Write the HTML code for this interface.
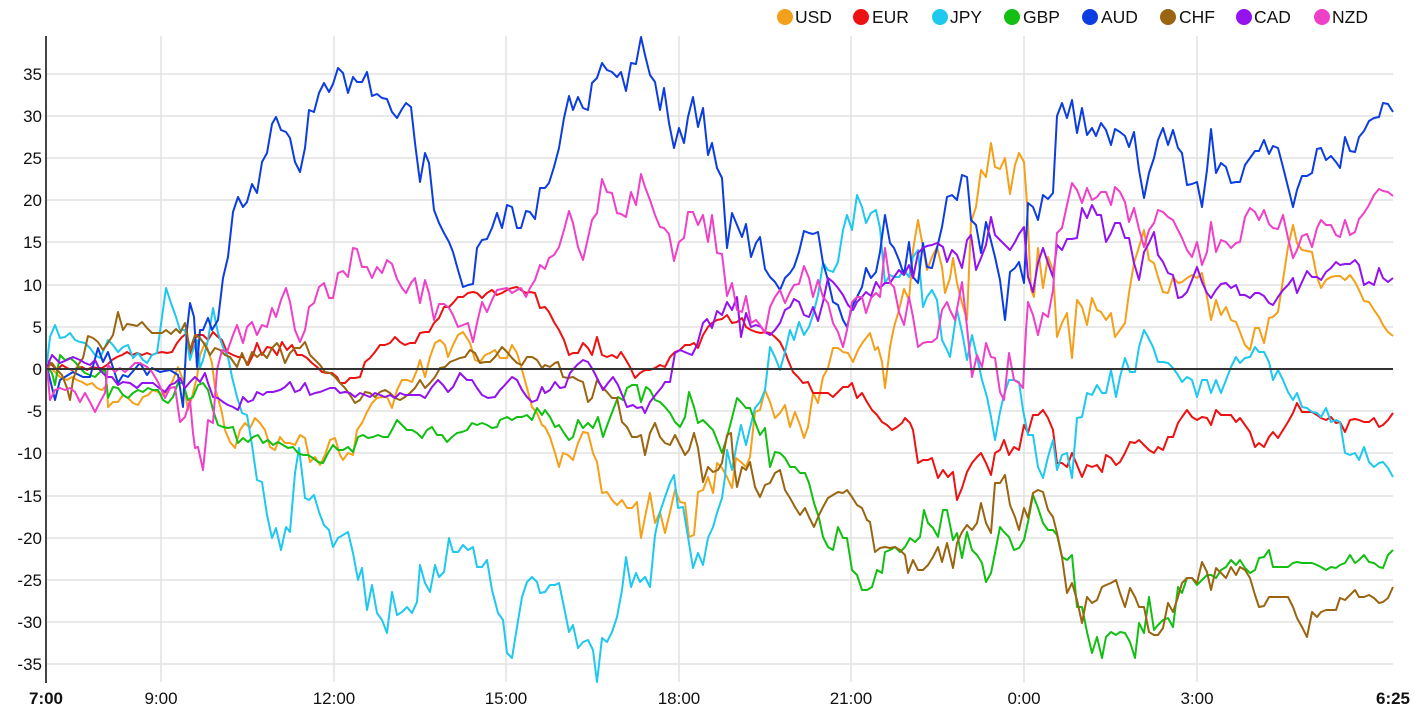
<!DOCTYPE html>
<html><head><meta charset="utf-8"><style>
html,body{margin:0;padding:0;background:#fff;}
svg{display:block;font-family:"Liberation Sans",Arial,sans-serif;}
</style></head><body>
<svg width="1416" height="715" viewBox="0 0 1416 715" xmlns="http://www.w3.org/2000/svg">
<rect width="1416" height="715" fill="#fff"/>
<g stroke="#e2e2e2" stroke-width="1.5">
<line x1="46" y1="74" x2="1393" y2="74"/><line x1="46" y1="116" x2="1393" y2="116"/><line x1="46" y1="158" x2="1393" y2="158"/><line x1="46" y1="200" x2="1393" y2="200"/><line x1="46" y1="242" x2="1393" y2="242"/><line x1="46" y1="285" x2="1393" y2="285"/><line x1="46" y1="327" x2="1393" y2="327"/><line x1="46" y1="411" x2="1393" y2="411"/><line x1="46" y1="453" x2="1393" y2="453"/><line x1="46" y1="496" x2="1393" y2="496"/><line x1="46" y1="538" x2="1393" y2="538"/><line x1="46" y1="580" x2="1393" y2="580"/><line x1="46" y1="622" x2="1393" y2="622"/><line x1="46" y1="664" x2="1393" y2="664"/>
<line x1="161" y1="36" x2="161" y2="682"/><line x1="334" y1="36" x2="334" y2="682"/><line x1="506" y1="36" x2="506" y2="682"/><line x1="679" y1="36" x2="679" y2="682"/><line x1="851" y1="36" x2="851" y2="682"/><line x1="1024" y1="36" x2="1024" y2="682"/><line x1="1197" y1="36" x2="1197" y2="682"/>
</g>
<g font-size="17" fill="#111" text-anchor="end">
<text x="42" y="80">35</text><text x="42" y="122">30</text><text x="42" y="164">25</text><text x="42" y="206">20</text><text x="42" y="248">15</text><text x="42" y="291">10</text><text x="42" y="333">5</text><text x="42" y="375">0</text><text x="42" y="417">-5</text><text x="42" y="459">-10</text><text x="42" y="502">-15</text><text x="42" y="544">-20</text><text x="42" y="586">-25</text><text x="42" y="628">-30</text><text x="42" y="670">-35</text>
</g>
<g font-size="17" fill="#111" text-anchor="middle">
<text x="46" y="704" font-weight="bold">7:00</text><text x="161" y="704">9:00</text><text x="334" y="704">12:00</text><text x="506" y="704">15:00</text><text x="679" y="704">18:00</text><text x="851" y="704">21:00</text><text x="1024" y="704">0:00</text><text x="1197" y="704">3:00</text><text x="1393" y="704" font-weight="bold">6:25</text>
</g>
<g fill="none" stroke-width="2" stroke-linejoin="round">
<polyline stroke="#f5a01a" points="47,367 53,370 60,377 67,380 72,377 77,380 82,382 87,385 92,383 97,388 102,390 107,385 108,407 113,402 118,402 123,395 128,398 133,403 138,405 143,397 148,395 153,390 158,392 163,395 168,390 173,380 178,367 183,380 188,410 192,397 197,377 200,355 205,343 208,350 212,363 215,388 218,398 222,413 225,430 230,442 235,448 240,430 245,423 250,428 255,418 260,423 265,430 270,447 275,450 280,437 285,443 290,443 295,445 300,435 305,438 310,462 315,457 320,465 325,455 330,440 335,438 340,455 343,460 348,453 353,455 357,430 362,423 367,412 372,403 377,398 382,397 387,397 392,408 397,390 402,380 407,380 412,382 417,370 420,360 425,377 430,357 435,343 440,340 445,345 448,357 453,345 458,335 463,332 470,343 475,360 480,362 485,355 490,353 495,350 500,358 507,358 512,345 517,353 522,370 527,388 532,407 537,413 542,425 545,427 550,437 555,453 559,467 563,453 568,455 573,460 578,443 583,432 588,433 593,453 597,462 602,493 607,492 612,500 617,505 622,500 627,508 632,508 637,502 641,538 645,517 650,493 655,523 660,512 665,533 670,512 675,490 680,502 685,503 689,537 694,535 698,492 703,490 708,477 713,493 717,463 722,468 727,477 732,488 736,458 741,462 746,467 750,457 755,412 760,410 765,390 770,402 775,418 780,413 785,405 790,427 795,412 800,425 804,438 808,427 813,393 818,403 823,377 828,368 833,348 838,348 843,352 848,353 853,362 858,350 863,342 870,333 875,350 878,347 882,362 885,388 890,347 894,327 899,310 904,289 909,300 913,250 918,220 923,247 927,270 932,257 937,247 942,267 945,293 950,278 953,258 957,283 962,303 967,320 971,222 976,207 981,170 986,177 991,143 995,167 1000,169 1005,158 1010,194 1015,165 1019,153 1024,162 1027,203 1031,290 1034,297 1038,248 1043,288 1048,257 1053,270 1057,337 1062,323 1067,313 1072,358 1077,300 1082,307 1087,325 1092,298 1097,310 1101,312 1106,320 1111,313 1115,337 1120,330 1125,323 1129,293 1134,263 1139,247 1144,230 1149,260 1154,263 1158,277 1163,292 1168,293 1173,277 1178,283 1182,282 1187,278 1192,275 1197,278 1202,273 1207,297 1211,320 1216,300 1221,315 1226,307 1231,320 1236,322 1240,332 1245,345 1250,350 1255,328 1259,328 1264,343 1269,318 1273,317 1278,312 1283,280 1288,247 1293,225 1297,243 1302,250 1307,251 1312,252 1317,277 1321,288 1326,280 1331,277 1336,276 1340,276 1345,280 1350,275 1355,282 1359,290 1364,301 1369,302 1374,310 1379,317 1383,325 1388,332 1393,336"/>
<polyline stroke="#ee1111" points="47,360 52,365 57,370 62,365 67,368 72,370 77,368 82,367 87,370 92,367 97,368 102,368 107,365 112,360 117,357 122,355 127,352 132,355 137,353 142,355 147,353 152,355 157,353 162,352 167,353 172,352 177,343 182,337 187,333 190,357 193,343 197,335 203,335 208,340 213,332 218,337 222,340 227,352 233,355 238,357 243,357 248,365 253,355 257,343 262,355 267,347 272,348 277,355 282,342 287,350 292,345 297,355 302,355 307,358 312,363 317,367 322,372 327,373 332,373 337,377 340,383 345,383 350,378 355,378 360,377 365,362 370,358 375,352 380,345 385,345 390,343 395,337 400,342 405,345 410,343 415,343 420,333 425,332 429,332 434,323 439,318 444,307 449,307 453,303 458,297 463,297 468,293 473,292 477,293 482,298 487,293 492,290 497,295 502,293 507,290 512,288 517,287 521,290 526,293 530,292 535,293 540,308 545,307 549,312 554,322 559,330 564,340 569,355 573,353 578,353 583,343 588,348 592,355 597,337 602,355 607,357 612,355 617,358 621,352 626,360 630,367 635,378 640,373 645,370 650,370 655,368 660,365 665,367 670,357 675,352 680,350 685,345 690,345 694,343 698,348 703,335 708,327 712,323 717,320 722,319 727,315 732,323 737,322 742,318 746,327 751,330 756,332 761,333 765,332 770,333 775,337 780,342 785,352 788,360 793,372 798,377 803,383 808,382 813,393 818,393 823,393 828,393 833,397 838,392 843,387 848,387 852,383 857,398 862,393 867,402 872,410 877,415 882,422 887,425 892,430 897,427 902,423 905,418 910,423 913,430 918,463 923,460 928,460 932,458 938,478 943,470 948,477 953,472 957,500 962,488 967,472 972,463 977,457 981,453 986,463 991,475 995,453 1000,450 1004,440 1009,455 1014,447 1019,450 1024,425 1028,433 1033,415 1038,415 1043,410 1048,418 1053,430 1057,463 1062,463 1067,467 1072,453 1077,465 1082,477 1087,465 1092,467 1097,465 1102,472 1106,455 1111,458 1116,465 1120,462 1125,453 1130,442 1135,443 1139,440 1144,445 1149,450 1154,453 1158,447 1163,450 1168,437 1173,437 1178,423 1182,417 1187,410 1192,417 1197,420 1202,417 1207,418 1211,425 1216,410 1221,415 1226,415 1231,415 1236,422 1240,418 1245,425 1250,432 1255,447 1259,443 1264,447 1269,437 1273,432 1278,438 1283,430 1288,422 1293,413 1297,403 1302,412 1307,412 1312,412 1317,415 1321,418 1326,420 1331,417 1336,423 1340,422 1345,432 1350,420 1355,419 1359,420 1364,422 1369,422 1374,418 1379,427 1383,425 1388,420 1393,413"/>
<polyline stroke="#1ec8ee" points="47,363 50,337 55,325 60,338 65,337 70,333 75,340 80,342 85,343 90,348 95,355 100,358 105,347 108,340 113,345 118,352 123,347 128,345 133,358 138,353 143,360 147,363 152,355 157,353 162,317 166,288 171,303 176,317 180,330 185,330 190,360 192,353 197,340 200,368 203,360 208,340 213,308 218,333 223,347 228,357 232,377 237,397 242,413 247,415 252,445 257,480 262,482 267,515 272,538 276,528 281,550 286,527 290,532 295,473 299,448 305,498 309,500 314,495 319,512 324,525 329,530 333,547 338,538 343,535 348,532 353,553 358,580 362,568 367,610 372,585 377,613 382,620 387,633 392,592 397,615 402,612 407,607 412,613 417,602 420,565 425,583 430,592 435,565 439,577 444,572 449,538 453,552 458,552 463,545 468,550 473,547 477,567 482,567 487,560 492,590 498,613 503,620 507,653 512,658 517,627 522,597 527,582 532,577 537,582 540,593 545,592 550,585 555,585 559,583 564,607 569,632 573,625 578,648 583,642 588,640 593,650 597,682 602,638 607,642 612,632 617,617 622,590 626,557 631,587 636,573 640,582 645,577 650,587 655,535 660,512 665,497 670,483 674,475 678,508 683,507 688,537 693,568 698,553 703,565 708,538 713,527 717,513 722,498 725,477 727,450 732,470 737,443 741,425 746,445 750,428 755,408 760,402 765,390 770,347 775,357 780,370 785,352 790,330 794,340 799,322 804,335 809,327 813,315 818,295 823,263 828,270 833,272 838,262 843,230 847,215 852,230 857,195 862,207 866,223 871,213 876,210 880,228 885,283 890,275 894,277 899,277 904,270 909,277 913,257 918,250 923,307 927,297 932,290 937,300 942,340 947,350 950,357 957,310 962,332 967,360 972,335 977,357 982,380 987,397 991,417 995,440 1000,412 1004,395 1009,380 1014,380 1019,382 1023,410 1028,435 1033,435 1038,467 1043,478 1048,457 1053,440 1057,470 1062,455 1067,453 1072,478 1077,418 1082,417 1087,393 1092,395 1097,385 1102,393 1106,393 1111,370 1116,397 1120,377 1125,358 1130,372 1135,372 1139,347 1144,330 1148,337 1153,347 1158,362 1163,362 1168,363 1173,368 1178,375 1182,382 1187,377 1192,380 1197,397 1202,380 1207,380 1211,393 1216,380 1221,393 1226,380 1231,367 1236,357 1240,363 1245,358 1250,357 1255,347 1259,352 1264,352 1269,362 1273,380 1278,370 1283,380 1288,392 1293,400 1297,393 1302,407 1307,408 1312,412 1317,413 1321,417 1326,408 1331,422 1336,420 1340,422 1345,453 1350,455 1355,453 1359,460 1364,447 1369,462 1374,467 1379,463 1383,462 1388,468 1393,477"/>
<polyline stroke="#12bf12" points="47,367 52,373 55,385 60,355 65,360 70,358 75,362 80,368 85,373 90,375 95,377 100,372 105,370 108,398 113,387 118,388 123,395 128,398 133,393 138,390 143,392 148,388 153,390 158,390 163,400 168,403 173,397 178,383 183,383 188,400 193,397 198,385 203,383 208,390 213,410 218,425 223,427 228,428 233,427 238,443 243,438 248,442 253,437 258,435 263,443 268,440 273,445 278,442 283,445 288,448 293,447 298,453 303,455 308,455 313,458 318,462 323,463 328,453 333,445 338,450 343,450 348,447 353,452 358,437 363,435 368,438 373,437 378,435 383,437 388,437 393,428 397,420 402,425 407,430 412,430 417,433 422,438 427,430 432,427 437,435 442,435 447,442 452,437 457,433 462,432 467,430 472,423 477,425 482,423 487,425 492,428 497,427 500,420 507,417 512,420 517,417 522,417 527,415 532,420 537,408 542,415 545,410 550,417 555,427 559,425 564,433 569,440 573,437 578,420 583,428 588,423 593,428 598,417 603,437 608,423 613,410 618,397 623,400 627,388 632,385 637,385 641,402 646,387 650,390 655,400 660,402 665,407 670,413 675,422 680,427 685,417 689,392 694,407 698,423 703,420 708,425 713,430 717,440 722,453 727,437 732,418 737,398 741,402 746,408 750,408 755,422 760,435 765,428 770,467 775,452 780,453 785,458 790,467 795,467 800,473 805,473 809,483 814,503 819,518 823,537 828,547 833,550 838,527 843,538 847,538 852,570 857,575 862,590 867,590 872,587 877,570 882,573 885,552 890,550 895,547 900,552 905,547 910,538 915,542 920,537 924,510 928,523 933,528 938,537 943,510 947,510 953,540 957,533 962,558 967,532 972,550 977,555 982,563 986,582 991,573 995,553 1000,527 1004,532 1009,537 1014,550 1019,548 1024,540 1028,522 1033,495 1038,508 1043,523 1048,530 1053,530 1057,535 1062,557 1067,560 1072,555 1077,607 1082,607 1087,632 1092,653 1097,637 1102,658 1106,637 1111,632 1116,635 1120,632 1125,633 1130,642 1135,658 1139,623 1144,633 1149,597 1154,630 1158,625 1163,620 1168,618 1173,627 1178,587 1182,593 1187,578 1192,578 1197,585 1202,580 1207,575 1211,575 1216,578 1221,570 1226,567 1231,560 1236,565 1240,560 1245,568 1250,573 1255,570 1259,558 1264,557 1269,550 1273,567 1278,567 1283,567 1288,567 1293,563 1297,562 1302,563 1307,563 1312,563 1317,565 1321,567 1326,570 1331,567 1336,568 1340,565 1345,563 1350,555 1355,563 1359,560 1364,555 1369,562 1374,563 1379,567 1383,568 1388,555 1393,550"/>
<polyline stroke="#0c3de0" points="47,367 55,400 60,380 73,372 83,377 90,377 98,348 103,362 108,352 118,383 123,375 128,377 140,363 147,375 152,368 160,372 170,370 178,375 183,407 187,330 190,303 194,317 197,367 200,330 203,330 208,318 212,330 218,320 223,278 228,257 233,212 238,197 243,207 247,202 252,184 257,193 262,162 267,153 272,124 276,117 281,130 286,132 290,138 295,162 300,172 305,148 309,110 314,112 319,93 324,83 329,92 333,84 338,68 343,73 348,93 353,77 357,82 362,82 367,72 372,96 377,94 382,98 387,99 392,112 397,118 402,109 406,103 411,107 415,143 420,182 425,153 429,163 434,210 439,223 444,233 449,242 453,252 458,270 463,287 468,285 473,284 477,248 482,240 487,239 492,228 497,213 502,228 507,205 512,207 517,228 521,228 526,211 530,212 535,219 540,188 545,188 549,183 554,167 559,148 564,118 569,96 573,110 578,97 583,108 588,110 592,83 597,78 602,63 607,70 612,72 617,77 621,72 626,91 631,63 636,64 641,37 645,55 650,75 655,82 660,110 664,88 669,123 674,148 679,128 684,143 688,117 693,97 698,127 703,108 708,155 712,143 717,168 722,178 727,248 732,213 737,225 742,237 746,224 751,257 756,243 760,237 765,269 770,277 775,282 780,290 785,278 790,273 794,267 799,252 804,231 809,233 813,234 818,232 823,263 828,280 833,302 838,305 843,320 847,327 852,307 857,297 862,287 866,268 871,278 876,272 880,252 885,215 890,243 894,248 899,260 904,275 909,242 913,277 918,283 923,243 927,267 932,268 937,248 942,227 947,197 952,195 957,200 962,175 967,177 971,220 976,225 981,253 986,222 990,237 995,257 1000,280 1005,320 1010,272 1015,268 1019,262 1024,283 1028,203 1033,207 1038,220 1043,195 1048,199 1053,193 1057,116 1062,103 1067,118 1072,100 1077,133 1082,108 1087,135 1092,128 1096,136 1101,123 1106,130 1111,145 1115,129 1120,132 1125,136 1129,147 1134,132 1139,170 1144,198 1149,173 1154,158 1158,140 1163,128 1168,145 1173,130 1178,148 1182,153 1187,185 1192,184 1197,182 1202,207 1207,170 1211,129 1216,173 1221,163 1226,167 1231,183 1236,182 1240,182 1245,165 1250,158 1255,151 1259,151 1264,140 1269,154 1273,146 1278,148 1283,167 1288,187 1293,207 1297,190 1302,176 1307,176 1312,173 1317,149 1321,148 1326,160 1331,156 1336,162 1340,168 1345,137 1350,151 1355,152 1359,137 1364,131 1369,121 1374,118 1379,117 1383,103 1388,104 1393,112"/>
<polyline stroke="#996510" points="47,368 52,363 57,370 62,375 67,388 70,400 73,380 78,365 83,358 88,336 93,338 98,342 103,350 108,343 113,335 118,312 123,330 127,324 133,325 137,326 142,322 147,328 152,333 157,333 162,333 166,330 171,334 176,329 180,333 185,323 190,350 195,335 200,338 205,345 210,355 215,348 220,350 225,355 230,357 237,367 242,353 247,365 252,352 257,357 262,353 267,358 272,348 277,343 280,348 285,363 290,353 295,348 300,348 305,342 310,355 315,360 320,365 325,372 330,373 335,377 340,383 345,388 350,395 355,403 360,400 365,392 370,393 375,397 380,392 385,390 390,393 395,398 400,400 405,397 410,393 415,388 420,380 425,388 430,383 435,377 440,368 445,367 450,362 455,360 460,358 465,357 470,350 475,353 480,363 485,362 490,362 495,357 502,347 507,352 512,358 517,363 522,365 527,357 532,357 537,360 542,368 545,365 550,367 555,363 558,362 563,377 568,378 573,377 578,380 583,382 588,402 592,398 597,380 602,387 607,392 612,398 617,398 622,422 627,427 632,437 637,437 641,435 645,455 650,433 655,423 660,437 665,443 670,445 675,435 680,445 685,455 689,450 694,433 698,448 703,482 708,467 713,472 718,470 722,463 727,435 731,433 733,457 737,487 742,467 746,470 750,462 755,487 760,497 765,485 770,483 775,473 780,470 785,490 790,498 795,507 800,515 805,508 809,517 814,527 819,515 823,507 828,498 833,495 838,492 843,493 847,490 852,497 857,505 862,508 867,520 870,522 875,552 880,548 885,547 890,548 895,547 900,550 905,555 908,573 913,560 918,570 923,570 928,565 933,557 938,547 942,562 947,543 953,568 957,543 962,532 967,525 972,530 977,523 981,503 986,523 991,533 995,483 1000,483 1005,475 1010,505 1015,517 1019,530 1024,508 1028,518 1033,493 1038,490 1043,492 1048,510 1053,517 1057,533 1062,557 1067,593 1072,583 1077,600 1082,623 1087,597 1092,603 1097,600 1102,587 1106,585 1111,583 1116,580 1120,593 1125,607 1130,588 1135,597 1139,607 1144,607 1149,632 1154,635 1158,635 1163,628 1168,603 1173,612 1178,597 1182,583 1187,578 1192,578 1197,583 1202,562 1207,572 1211,590 1216,568 1221,573 1226,578 1231,567 1236,575 1240,567 1245,570 1250,578 1255,595 1259,607 1264,606 1269,597 1273,597 1278,597 1283,597 1288,597 1293,607 1297,618 1302,627 1307,637 1312,612 1317,617 1321,612 1326,610 1331,610 1336,610 1340,598 1345,600 1350,595 1355,590 1359,597 1364,597 1369,595 1374,598 1379,603 1383,602 1388,598 1393,587"/>
<polyline stroke="#9412ee" points="47,367 52,355 60,363 67,360 73,357 80,360 85,363 90,365 95,360 100,370 107,377 112,377 118,385 123,382 130,383 137,388 142,383 147,383 153,383 158,387 165,392 170,385 175,383 180,378 185,388 190,382 195,377 200,382 205,373 208,383 213,397 218,398 223,402 228,405 233,407 238,410 243,397 248,402 253,400 257,392 263,395 267,392 273,392 280,390 285,387 290,382 295,392 300,390 305,383 310,395 315,393 320,392 325,390 330,388 335,388 340,393 345,392 350,393 355,397 360,393 365,395 370,397 375,393 380,395 385,397 390,395 395,398 400,393 405,395 410,395 415,395 420,395 425,398 432,387 438,380 443,385 448,392 453,387 460,373 467,380 472,380 477,388 482,395 488,398 495,397 500,390 503,387 512,377 517,380 522,390 527,397 532,402 537,400 542,387 545,393 550,390 555,382 560,388 565,387 570,373 577,365 583,360 588,362 593,370 598,380 603,390 608,383 613,377 618,385 623,397 627,407 633,405 637,408 642,407 645,413 650,402 657,393 662,387 665,382 670,382 675,353 680,350 687,353 692,355 697,345 703,323 707,319 712,328 717,311 722,315 727,302 732,310 737,297 741,337 746,313 751,327 756,325 761,327 765,332 770,335 775,330 780,323 785,310 790,307 794,299 799,302 804,315 809,317 813,307 818,321 823,302 828,278 833,282 838,288 843,295 848,305 853,310 857,302 862,297 866,292 871,296 876,282 880,288 885,283 890,283 894,277 899,270 904,275 909,265 913,278 918,253 923,248 927,246 932,245 937,243 943,247 947,262 952,250 957,255 962,268 967,240 971,235 976,270 981,258 986,245 991,217 995,235 1000,240 1005,245 1010,250 1015,242 1019,234 1024,227 1028,277 1033,292 1038,263 1043,248 1048,263 1053,277 1057,245 1062,250 1067,239 1072,239 1077,238 1082,208 1087,218 1092,205 1097,215 1101,215 1106,242 1111,233 1115,223 1120,223 1125,238 1129,238 1134,263 1139,280 1144,252 1149,243 1154,232 1158,255 1163,262 1168,273 1173,275 1178,298 1182,297 1187,292 1192,280 1197,267 1202,282 1207,293 1211,298 1216,290 1221,284 1226,283 1231,288 1236,285 1240,295 1245,295 1250,298 1255,293 1259,293 1264,296 1269,303 1273,305 1278,297 1283,290 1288,285 1293,278 1297,293 1302,282 1307,271 1312,277 1317,277 1321,280 1326,272 1331,268 1336,262 1340,265 1345,264 1350,264 1355,260 1359,265 1364,285 1369,282 1374,285 1379,268 1383,278 1388,282 1393,278"/>
<polyline stroke="#ee40c8" points="47,367 50,400 55,390 60,388 65,390 70,388 75,392 80,402 85,393 90,402 95,412 100,402 105,393 108,365 115,372 120,368 125,372 130,368 135,363 140,363 147,367 152,372 158,382 165,398 170,388 175,387 180,422 185,417 190,400 193,433 195,448 198,447 203,470 208,420 213,423 217,370 222,350 227,352 233,335 237,325 243,343 247,327 252,322 257,335 262,325 267,327 272,308 276,317 281,300 286,288 290,302 295,330 300,342 305,330 309,307 314,303 319,287 324,283 329,298 333,298 338,273 343,271 348,277 353,248 357,249 362,267 367,267 372,278 377,267 382,273 387,260 392,264 397,279 402,288 406,293 411,283 415,278 420,303 425,280 429,293 434,320 439,304 444,304 449,308 453,315 458,327 463,325 468,323 473,342 477,323 482,302 487,312 492,300 497,290 502,289 507,288 512,293 517,290 521,288 526,297 530,288 535,280 540,265 545,269 549,258 554,255 559,247 564,230 569,211 573,223 578,247 583,260 588,238 592,220 597,213 602,179 607,192 612,193 617,213 621,214 626,217 631,192 636,205 641,174 645,187 650,200 655,215 660,227 664,228 669,234 674,261 679,242 684,238 688,212 693,212 698,225 703,215 708,242 712,215 717,253 722,254 727,296 732,283 737,310 742,312 746,296 751,323 756,320 760,325 765,333 770,307 775,297 780,290 785,303 790,292 794,285 799,284 804,266 809,278 813,297 818,280 823,297 828,303 833,323 838,332 843,347 847,330 852,302 857,297 862,297 866,313 871,298 876,293 880,297 885,248 890,283 894,287 899,312 904,325 909,297 913,317 918,347 923,343 927,342 932,342 937,338 942,310 947,302 950,310 955,320 962,282 967,327 972,377 977,355 982,367 986,343 991,357 995,358 1000,392 1004,400 1009,353 1014,380 1019,383 1023,388 1026,330 1028,302 1033,315 1038,335 1043,313 1048,317 1053,290 1057,233 1062,228 1067,205 1072,183 1077,190 1082,203 1087,188 1092,200 1097,197 1101,192 1106,192 1111,205 1115,187 1120,192 1125,202 1129,222 1134,208 1139,229 1144,247 1149,230 1154,223 1158,210 1163,212 1168,217 1173,220 1178,230 1182,238 1187,250 1192,257 1197,242 1202,265 1207,252 1211,222 1216,252 1221,240 1226,242 1231,248 1236,243 1240,242 1245,217 1250,208 1255,212 1259,220 1264,210 1269,224 1273,228 1278,229 1283,215 1288,238 1293,258 1297,250 1302,236 1307,234 1312,247 1317,228 1321,220 1326,225 1331,225 1336,235 1340,237 1345,220 1350,235 1355,232 1359,219 1364,213 1369,205 1374,195 1379,189 1383,191 1388,192 1393,196"/>
</g>
<line x1="46" y1="369" x2="1393" y2="369" stroke="#333" stroke-width="2"/>
<line x1="46" y1="36" x2="46" y2="683" stroke="#444" stroke-width="2"/>
<g font-size="17.5" fill="#111">
<circle cx="785" cy="17" r="8" fill="#f5a01a"/><text x="795" y="23">USD</text>
<circle cx="861" cy="17" r="8" fill="#ee1111"/><text x="872" y="23">EUR</text>
<circle cx="940" cy="17" r="8" fill="#1ec8ee"/><text x="950" y="23">JPY</text>
<circle cx="1012" cy="17" r="8" fill="#12bf12"/><text x="1023" y="23">GBP</text>
<circle cx="1090" cy="17" r="8" fill="#0c3de0"/><text x="1101" y="23">AUD</text>
<circle cx="1168" cy="17" r="8" fill="#996510"/><text x="1179" y="23">CHF</text>
<circle cx="1244" cy="17" r="8" fill="#9412ee"/><text x="1254" y="23">CAD</text>
<circle cx="1322" cy="17" r="8" fill="#ee40c8"/><text x="1332" y="23">NZD</text>
</g>
</svg>
</body></html>
